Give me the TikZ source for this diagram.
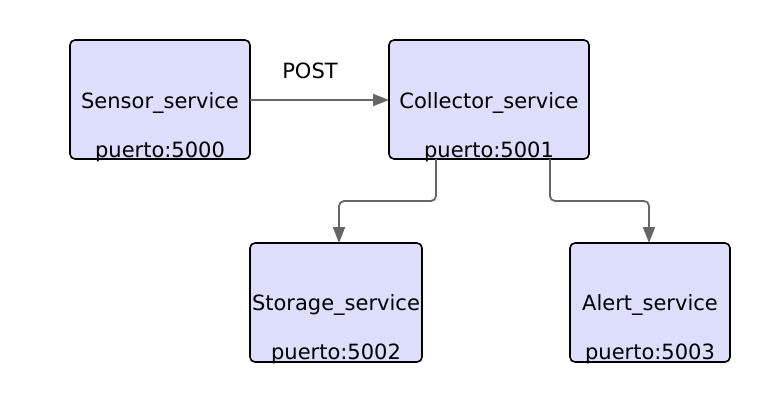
\documentclass[tikz,border=0pt]{standalone}
\usepackage{fontspec}
\setmainfont{DejaVu Sans}
\usetikzlibrary{arrows.meta}
\definecolor{boxfill}{HTML}{DDDDFC}
\definecolor{edge}{HTML}{666666}
\tikzset{
  svc/.style={draw=black, line width=1.6pt, fill=boxfill, rounded corners=5pt, inner sep=0pt},
  lbl/.style={font=\fontsize{21}{24}\selectfont, text=black, inner sep=0pt, anchor=base},
  conn/.style={draw=edge, line width=1.8pt, -{Triangle[length=16pt,width=12pt]}, rounded corners=5pt}
}
\begin{document}
\begin{tikzpicture}[x=1pt,y=-1pt]
\useasboundingbox (0,0) rectangle (770,407);
% boxes
\path[svc] (70,40) rectangle (250,159);
\coordinate (sensorE) at (250,100);
\path[svc] (389,40) rectangle (589,159);
\coordinate (collW) at (389,100);
\coordinate (collA) at (436,159);
\coordinate (collB) at (550,159);
\path[svc] (250,243) rectangle (422,362);
\coordinate (storN) at (339,243);
\path[svc] (570,243) rectangle (730,362);
\coordinate (alertN) at (649,243);
% labels
\node[lbl] (s1) at (160,108) {Sensor\_service};
\node[lbl] (s2) at (160,157) {puerto:5000};
\node[lbl] (c1) at (489,108) {Collector\_service};
\node[lbl] (c2) at (489,157) {puerto:5001};
\node[lbl] (t1) at (336,310) {Storage\_service};
\node[lbl] (t2) at (336,359) {puerto:5002};
\node[lbl] (a1) at (650,310) {Alert\_service};
\node[lbl] (a2) at (650,359) {puerto:5003};
\node[lbl] (post) at (310,78) {POST};
% connectors
\draw[conn] (sensorE) -- (collW);
\draw[conn] (collA) -- (436,201) -- (339,201) -- (storN);
\draw[conn] (collB) -- (550,201) -- (649,201) -- (alertN);
\end{tikzpicture}
\end{document}
